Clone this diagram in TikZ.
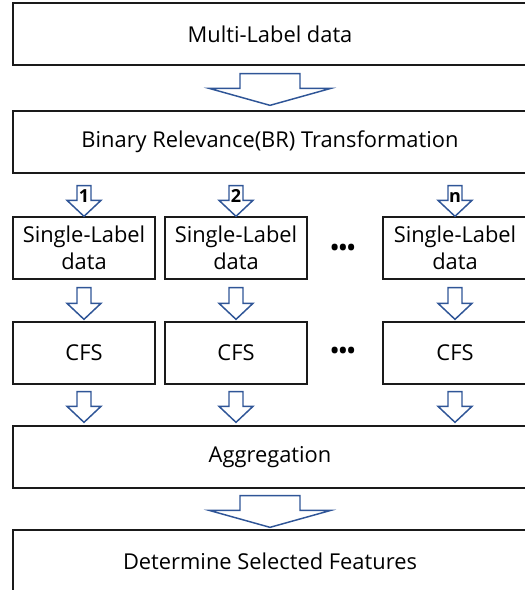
\documentclass[tikz,border=0pt]{standalone}
\usepackage{fontspec}
\setmainfont{Open Sans}
\usetikzlibrary{calc}

\definecolor{arrowblue}{HTML}{2F5597}
\definecolor{boxline}{HTML}{1A1A1A}

% Block arrow from the bottom of #1 down to the top of #2, on the centre line of #8.
% #3 gap below #1, #4 gap above #2, #5 half shaft width, #6 half head width, #7 head length
\newcommand{\blockarrow}[8]{%
  \path ($(#8.center |- #2.north)+(0,-#4)$) coordinate (tip);
  \draw[flowarrow] (tip) -- ++(#6,-#7) -- ++(-#6+#5,0)
    -- ($(#8.center |- #1.south)+(#5,#3)$) -- ++(-2*#5,0)
    -- ($(tip)+(-#5,-#7)$) -- ++(-#6+#5,0) -- cycle;
}

\begin{document}
% one unit = one pixel of a 96 dpi drawing
\begin{tikzpicture}[x=0.75pt,y=-0.75pt,
  stagebox/.style={draw=boxline,line width=1pt,fill=white,inner sep=0pt,
    minimum height=46.5pt,font=\fontsize{16.4}{20.3}\selectfont,align=center},
  widebox/.style={stagebox,minimum width=385.5pt},
  colbox/.style={stagebox,minimum width=106.5pt},
  edgebox/.style={stagebox,minimum width=108pt},
  flowarrow/.style={draw=arrowblue,line width=1.1pt,line join=miter,fill=white},
  numlabel/.style={font=\fontsize{13.5}{16}\selectfont\bfseries,inner sep=0pt,anchor=base},
  ellipsis/.style={font=\fontsize{16.4}{20}\selectfont\bfseries,inner sep=0pt}]
\useasboundingbox (0,0) rectangle (525,590);
\clip (0,0) rectangle (525,590);

% Full-width stages
\node[widebox] (multi) at (270,34) {Multi-Label data};
\node[widebox] (br) at (270,142) {Binary Relevance(BR) Transformation};

% Per-label columns
\node[colbox] (s1) at (84,248) {Single-Label\\data};
\node[colbox] (s2) at (236,248) {Single-Label\\data};
\node[edgebox] (s3) at (455,248) {Single-Label\\data};
\node[colbox] (c1) at (84,353) {CFS};
\node[colbox] (c2) at (236,353) {CFS};
\node[edgebox] (c3) at (455,353) {CFS};

\node[ellipsis] (dotsA) at ($(s2.east)!0.5!(s3.west)+(-2,2)$) {•••};
\node[ellipsis] (dotsB) at ($(c2.east)!0.5!(c3.west)+(-2,0)$) {•••};

\node[widebox] (agg) at (270,457) {Aggregation};
\node[widebox] (final) at (270,561) {Determine Selected Features};

% Arrows
\blockarrow{multi}{br}{8}{5}{30}{61}{17}{br}
\blockarrow{br}{s1}{12}{0}{7}{17}{16}{s1}
\blockarrow{br}{s2}{12}{0}{7}{17}{16}{s2}
\blockarrow{br}{s3}{12}{0}{7}{17}{16}{s3}
\blockarrow{s1}{c1}{8}{2}{7}{17}{16}{c1}
\blockarrow{s2}{c2}{8}{2}{7}{17}{16}{c2}
\blockarrow{s3}{c3}{8}{2}{7}{17}{16}{c3}
\blockarrow{c1}{agg}{7}{3}{7}{17}{16}{c1}
\blockarrow{c2}{agg}{7}{3}{7}{17}{16}{c2}
\blockarrow{c3}{agg}{7}{3}{7}{17}{16}{c3}
\blockarrow{agg}{final}{7}{2}{30}{61}{17}{final}

% Label indices on the split arrows
\node[numlabel] (n1) at ($(s1.north)+(0,-14)$) {1};
\node[numlabel] (n2) at ($(s2.north)+(0,-14)$) {2};
\node[numlabel] (nn) at ($(s3.north)+(0,-14)$) {n};
\end{tikzpicture}
\end{document}
